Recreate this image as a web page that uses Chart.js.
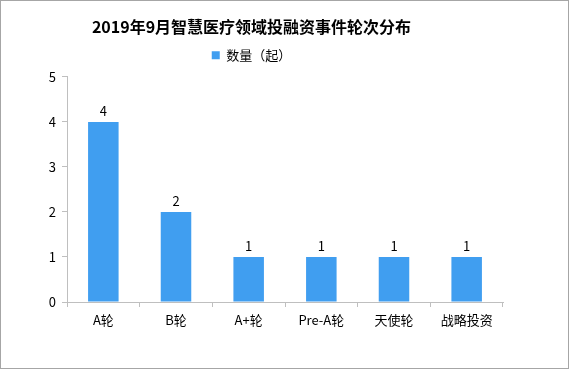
<!DOCTYPE html>
<html>
<head>
<meta charset="utf-8">
<script src="https://cdn.jsdelivr.net/npm/chart.js@4.4.1/dist/chart.umd.min.js"></script>
<style>
  html, body { margin: 0; padding: 0; background: #fff; }
  #wrap { width: 571px; height: 369px; }
</style>
</head>
<body>
<div id="wrap"><canvas id="myChart"></canvas></div>
<script>
const rounds = ['A轮', 'B轮', 'A+轮', 'Pre-A轮', '天使轮', '战略投资'];
const counts = [4, 2, 1, 1, 1, 1];
const yTicks = [0, 1, 2, 3, 4, 5];

const FONT = '"Noto Sans CJK SC", "DejaVu Sans", sans-serif';
const AXIS = '#bfbfbf';

// value labels above each bar + thin frame around the picture
const barLabels = {
  id: 'barLabels',
  afterDatasetsDraw(chart) {
    const { ctx } = chart;
    const meta = chart.getDatasetMeta(0);
    ctx.save();
    ctx.font = '13px ' + FONT;
    ctx.fillStyle = '#000';
    ctx.textAlign = 'center';
    ctx.textBaseline = 'bottom';
    meta.data.forEach((bar, i) => {
      ctx.fillText(counts[i], bar.x, bar.y - 4);
    });
    ctx.restore();
  },
  afterDraw(chart) {
    const { ctx } = chart;
    ctx.save();
    ctx.strokeStyle = '#a6a6a6';
    ctx.lineWidth = 1;
    ctx.strokeRect(0.5, 0.5, chart.width - 3, chart.height - 1);
    ctx.restore();
  },
};

new Chart(document.getElementById('myChart'), {
  type: 'bar',
  data: {
    labels: rounds,
    datasets: [
      {
        label: '数量（起）',
        data: counts,
        backgroundColor: '#409ef0',
        categoryPercentage: 0.42,
        barPercentage: 1,
      },
    ],
  },
  options: {
    responsive: true,
    maintainAspectRatio: false,
    animation: false,
    layout: { padding: { left: 0, right: 68, top: 8, bottom: 20 } },
    plugins: {
      title: {
        display: true,
        text: '2019年9月智慧医疗领域投融资事件轮次分布',
        color: '#000',
        font: { family: FONT, size: 16, weight: 'bold' },
        padding: { top: 9, bottom: 1 },
      },
      // empty spacer below the legend
      subtitle: {
        display: true,
        text: ' ',
        weight: 500,
        font: { size: 1 },
        padding: { top: 0, bottom: 4 },
      },
      legend: {
        display: true,
        labels: {
          color: '#000',
          font: { family: FONT, size: 13 },
          boxWidth: 8,
          boxHeight: 8,
          padding: 11.5,
        },
      },
      tooltip: { enabled: false },
    },
    scales: {
      x: {
        grid: {
          display: true,
          drawOnChartArea: false,
          color: AXIS,
          tickLength: 5,
        },
        border: { color: AXIS },
        ticks: {
          color: '#000',
          font: { family: FONT, size: 13 },
          padding: 5,
          maxRotation: 0,
        },
        afterFit(scale) { scale.height = 47; },
      },
      y: {
        min: 0,
        max: 5,
        afterBuildTicks(scale) { scale.ticks = yTicks.map((v) => ({ value: v })); },
        grid: {
          display: true,
          drawOnChartArea: false,
          color: AXIS,
          tickLength: 5,
        },
        border: { color: AXIS },
        ticks: {
          color: '#000',
          font: { family: FONT, size: 13 },
          padding: 6,
        },
        afterFit(scale) { scale.width = 67; },
      },
    },
  },
  plugins: [barLabels],
});
</script>
</body>
</html>
